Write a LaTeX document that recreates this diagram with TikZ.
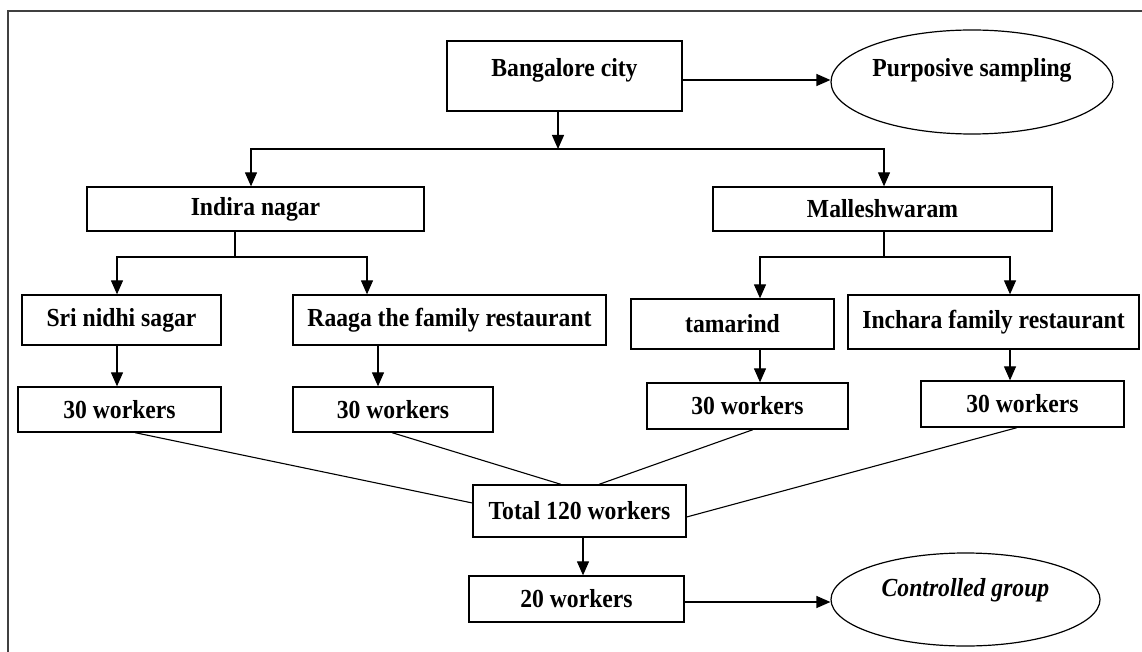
\documentclass[tikz,border=0pt]{standalone}
\usepackage{fontspec}
\setmainfont{Liberation Serif}[FakeStretch=0.91]
\usepackage{tikz}
\usetikzlibrary{positioning}
\usetikzlibrary{shapes.geometric}
\usetikzlibrary{arrows.meta}

\begin{document}
\begin{tikzpicture}[x=1pt, y=-1pt,
  box/.style={draw, line width=1.3pt, inner sep=2pt, font=\fontsize{26pt}{30pt}\selectfont\bfseries},
  oval/.style={draw, ellipse, line width=1.2pt, inner sep=0pt, font=\fontsize{26pt}{30pt}\selectfont\bfseries},
  arr/.style={line width=1.2pt, -{Triangle[length=14pt,width=12pt]}},
  link/.style={line width=1.1pt}]
\useasboundingbox (0,0) rectangle (1142,652);
\draw [line width=2pt, black!75] (8,652) -- (8,11) -- (1142,11);

\node (city) [box, minimum width=235pt, minimum height=70pt, text depth=18pt] at (564.5,76) {Bangalore city};
\node (purp) [oval, minimum width=282pt, minimum height=104pt, text depth=28.6pt] at (972,82) {Purposive sampling};

\node (indira) [box, minimum width=337pt, minimum height=44pt] at (255.5,209) {Indira nagar};
\node (malle) [box, minimum width=339pt, minimum height=44pt] at (882.5,209) {Malleshwaram};

\node (sri) [box, minimum width=199pt, minimum height=50pt] at (121.5,320) {Sri nidhi sagar};
\node (raaga) [box, minimum width=313pt, minimum height=50pt] at (449.5,320) {Raaga the family restaurant};
\node (tama) [box, minimum width=203pt, minimum height=50pt] at (732.5,324) {tamarind};
\node (inch) [box, minimum width=291pt, minimum height=54pt] at (993.5,322) {Inchara family restaurant};

\node (w1) [box, minimum width=203pt, minimum height=45pt] at (119.5,409.5) {30 workers};
\node (w2) [box, minimum width=200pt, minimum height=45pt] at (393,409.5) {30 workers};
\node (w3) [box, minimum width=201pt, minimum height=46pt] at (747.5,406) {30 workers};
\node (w4) [box, minimum width=203pt, minimum height=46pt] at (1022.5,404) {30 workers};

\node (total) [box, minimum width=213pt, minimum height=52pt] at (579.5,511) {Total 120 workers};
\node (w20) [box, minimum width=215pt, minimum height=46pt] at (576.5,599) {20 workers};
\node (ctrl) [oval, minimum width=269pt, minimum height=93pt, text depth=23.6pt, font=\fontsize{26pt}{30pt}\selectfont\bfseries\itshape] at (965.5,599.5) {Controlled group};

\coordinate (bus1) at (558,149);
\coordinate (bus2) at (235,257);
\coordinate (bus3) at (884,257);

\draw [arr] ([yshift=-4pt]city.east) -- ([yshift=-4pt]city.east -| purp.west);
\draw [arr] (city.south -| bus1) -- (bus1);
\draw [arr] (bus1) -| ([xshift=-4.5pt]indira.north);
\draw [arr] (bus1) -| ([xshift=1.5pt]malle.north);

\draw [link] (indira.south -| bus2) -- (bus2);
\draw [arr] (bus2) -| ([xshift=-4.5pt]sri.north);
\draw [arr] (bus2) -| ([xshift=-82.5pt]raaga.north);
\draw [link] (malle.south -| bus3) -- (bus3);
\draw [arr] (bus3) -| ([xshift=27.5pt]tama.north);
\draw [arr] (bus3) -| ([xshift=16.5pt]inch.north);

\draw [arr] ([xshift=-4.5pt]sri.south) -- ([xshift=-4.5pt]sri.south |- w1.north);
\draw [arr] ([xshift=-71.5pt]raaga.south) -- ([xshift=-71.5pt]raaga.south |- w2.north);
\draw [arr] ([xshift=27.5pt]tama.south) -- ([xshift=27.5pt]tama.south |- w3.north);
\draw [arr] ([xshift=16.5pt]inch.south) -- ([xshift=16.5pt]inch.south |- w4.north);

\draw [link] ([xshift=15.5pt]w1.south) -- ([yshift=8pt]total.west);
\draw [link] ([xshift=-1pt]w2.south) -- ([xshift=-18.5pt]total.north);
\draw [link] ([xshift=5.5pt]w3.south) -- ([xshift=19.5pt]total.north);
\draw [link] ([xshift=-5.5pt]w4.south) -- ([yshift=-6pt]total.east);

\draw [arr] ([xshift=3.5pt]total.south) -- ([xshift=3.5pt]total.south |- w20.north);
\draw [arr] ([yshift=-3pt]w20.east) -- ([yshift=-3pt]w20.east -| ctrl.west);

\end{tikzpicture}
\end{document}
